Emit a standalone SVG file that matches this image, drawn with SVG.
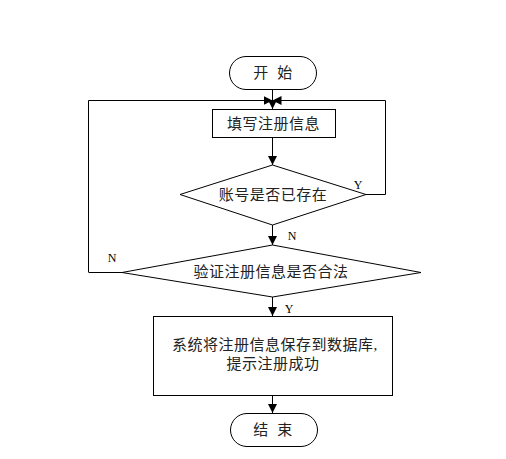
<svg xmlns="http://www.w3.org/2000/svg" width="506" height="459" viewBox="0 0 506 459">
<defs>
<marker id="ah" viewBox="0 0 10 10" refX="10" refY="5" markerWidth="9" markerHeight="9" markerUnits="userSpaceOnUse" orient="auto"><path d="M0,0 L10,5 L0,10 Z" fill="#000"/></marker>
</defs>
<style>
.s{fill:#fff;stroke:#000;stroke-width:1}
.l{fill:none;stroke:#000;stroke-width:1}
.t{font-family:"Liberation Serif","Noto Sans CJK SC",serif;font-size:15px;letter-spacing:0.5px;fill:#222;text-anchor:middle;dominant-baseline:central}
.y{font-family:"Liberation Serif",serif;font-size:12px;fill:#000;text-anchor:middle;dominant-baseline:central}
</style>
<rect width="506" height="459" fill="#fff"/>
<g id="connectors">
<path class="l" d="M272.5,89 V100" />
<path class="l" d="M88.5,272 V100.5 H272.5" marker-end="url(#ah)"/>
<path class="l" d="M366,194.5 H385.5 V100.5 H272.5" marker-end="url(#ah)"/>
<path class="l" d="M272.5,100 V109" marker-end="url(#ah)"/>
<path class="l" d="M272.5,137 V165" marker-end="url(#ah)"/>
<path class="l" d="M272.5,225 V245" marker-end="url(#ah)"/>
<path class="l" d="M122,272.5 H88.5"/>
<path class="l" d="M272.5,297 V316" marker-end="url(#ah)"/>
<path class="l" d="M272.5,395 V413" marker-end="url(#ah)"/>
<text class="y" x="358" y="185">Y</text>
<text class="y" x="292" y="236">N</text>
<text class="y" x="112" y="258">N</text>
<text class="y" x="289" y="309">Y</text>
</g>
<g id="start">
<rect class="s" x="229.5" y="56.5" width="87" height="33" rx="16.5"/>
<text class="t" x="273" y="73" xml:space="preserve">开  始</text>
</g>
<g id="fill">
<rect class="s" x="212.5" y="109.5" width="123" height="28"/>
<text class="t" x="273.5" y="123.5">填写注册信息</text>
</g>
<g id="exists">
<path class="s" d="M272.5,165 L366,194.5 L272.5,225 L180,194.5 Z"/>
<text class="t" x="273" y="195">账号是否已存在</text>
</g>
<g id="valid">
<path class="s" d="M272.5,245 L421,272.5 L272.5,297 L122,272.5 Z"/>
<text class="t" x="271" y="272">验证注册信息是否合法</text>
</g>
<g id="save">
<rect class="s" x="153.5" y="316.5" width="239" height="79"/>
<text class="t" x="275" y="345">系统将注册信息保存到数据库,</text>
<text class="t" x="273" y="364">提示注册成功</text>
</g>
<g id="end">
<rect class="s" x="230.5" y="413.5" width="87" height="33" rx="16.5"/>
<text class="t" x="273" y="430" xml:space="preserve">结  束</text>
</g>
</svg>
